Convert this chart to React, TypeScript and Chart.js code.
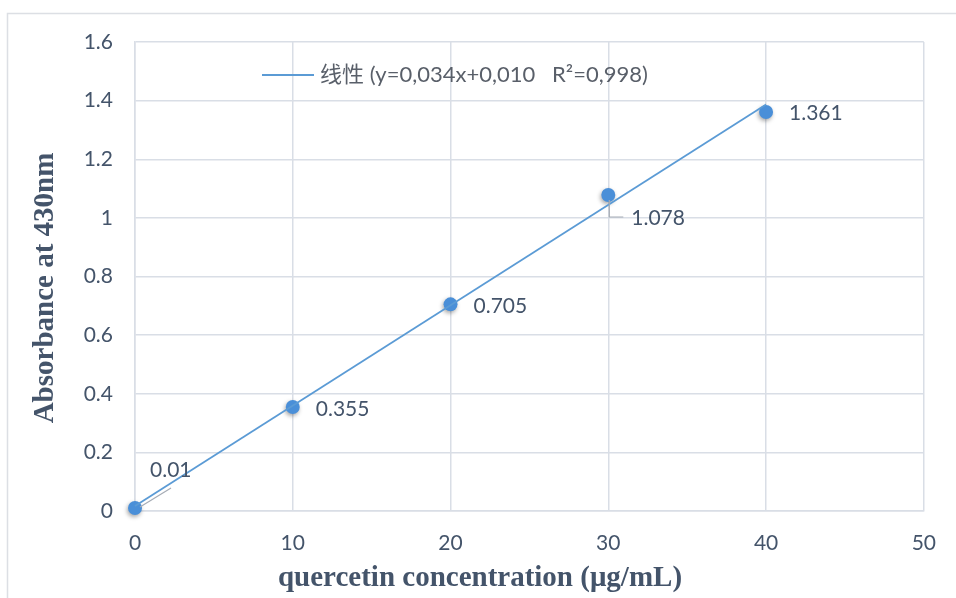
import React, { useEffect, useRef } from "react";
import { Chart, registerables } from "chart.js";

Chart.register(...registerables);

const concentrations = [0, 10, 20, 30, 40];
const absorbance = [0.01, 0.355, 0.705, 1.078, 1.361];
const trendX = [0, 40];
const trendY = [0.017, 1.387];
const xTitle = "quercetin concentration (μg/mL)";
const yTitle = "Absorbance at 430nm";
const legendText = "线性 (y=0,034x+0,010   R²=0,998)";

const TICK_COLOR = "#44546a";
const GRID = "#d9dee6";
const BLUE = "#5b9bd5";
const POINT = "#4a8fd8";
const SANS = "Lato, 'Noto Sans CJK SC', sans-serif";
const SERIF = "'Liberation Serif', 'DejaVu Serif', serif";

// label offsets relative to point pixel (style only)
const labelOffsets = [
  [15, -38],
  [23, 2],
  [23, 2],
  [23, 23],
  [23, 1],
];

export default function App() {
  const ref = useRef<HTMLCanvasElement | null>(null);

  useEffect(() => {
    if (!ref.current) return;

    const decor = {
      id: "decor",
      beforeDraw(chart: any) {
        const ctx = chart.ctx;
        ctx.save();
        ctx.strokeStyle = "#dcdfe4";
        ctx.lineWidth = 1.5;
        ctx.strokeRect(7.5, 13.5, 980, 620);
        ctx.restore();
      },
      beforeDatasetDraw(chart: any, args: any) {
        if (args.index === 0) {
          const ctx = chart.ctx;
          ctx.save();
          ctx.shadowColor = "rgba(0,0,0,0.35)";
          ctx.shadowBlur = 4;
          ctx.shadowOffsetX = -1;
          ctx.shadowOffsetY = 2;
        }
      },
      afterDatasetDraw(chart: any, args: any) {
        if (args.index === 0) chart.ctx.restore();
      },
      afterDraw(chart: any) {
        const ctx = chart.ctx;
        const xs = chart.scales.x;
        const ys = chart.scales.y;
        const ca = chart.chartArea;
        ctx.save();
        // data labels
        ctx.font = `21px ${SANS}`;
        ctx.fillStyle = TICK_COLOR;
        ctx.textBaseline = "middle";
        ctx.textAlign = "left";
        concentrations.forEach((c, i) => {
          const px = xs.getPixelForValue(c);
          const py = ys.getPixelForValue(absorbance[i]);
          const [dx, dy] = labelOffsets[i];
          ctx.fillText(String(absorbance[i]), px + dx, py + dy);
        });
        // leader lines
        ctx.strokeStyle = "#a6acb5";
        ctx.lineWidth = 1.2;
        {
          const px = xs.getPixelForValue(concentrations[0]);
          const py = ys.getPixelForValue(absorbance[0]);
          ctx.beginPath();
          ctx.moveTo(px + 5, py - 1);
          ctx.lineTo(px + 36, py - 20);
          ctx.stroke();
        }
        {
          const px = xs.getPixelForValue(concentrations[3]);
          const py = ys.getPixelForValue(absorbance[3]);
          ctx.beginPath();
          ctx.moveTo(px + 1, py + 5);
          ctx.lineTo(px + 1, py + 22);
          ctx.lineTo(px + 15, py + 22);
          ctx.stroke();
        }
        // legend
        const ly = ca.top + 33;
        ctx.strokeStyle = BLUE;
        ctx.lineWidth = 2;
        ctx.beginPath();
        ctx.moveTo(ca.left + 127, ly);
        ctx.lineTo(ca.left + 179, ly);
        ctx.stroke();
        ctx.font = `22px ${SANS}`;
        ctx.fillStyle = "#595f69";
        ctx.fillText(legendText, ca.left + 185, ly);
        // axis titles
        ctx.fillStyle = TICK_COLOR;
        ctx.font = `bold 29px ${SERIF}`;
        ctx.textAlign = "center";
        ctx.fillText(xTitle, 480, 579);
        ctx.translate(46, 288);
        ctx.rotate(-Math.PI / 2);
        ctx.fillText(yTitle, 0, 0);
        ctx.restore();
      },
    };

    const chart = new Chart(ref.current, {
      type: "scatter",
      data: {
        datasets: [
          {
            label: "points",
            data: concentrations.map((x, i) => ({ x, y: absorbance[i] })),
            pointRadius: 7,
            pointHoverRadius: 7,
            pointBackgroundColor: POINT,
            pointBorderColor: POINT,
            pointBorderWidth: 0,
            showLine: false,
            clip: false,
            order: 2,
          } as any,
          {
            label: "trend",
            type: "line",
            data: trendX.map((x, i) => ({ x, y: trendY[i] })),
            borderColor: BLUE,
            borderWidth: 1.8,
            pointRadius: 0,
            fill: false,
            clip: false,
            order: 1,
          } as any,
        ],
      },
      options: {
        animation: false,
        responsive: true,
        maintainAspectRatio: false,
        layout: { padding: { left: 0, right: 30, top: 42, bottom: 0 } },
        plugins: {
          legend: { display: false },
          tooltip: { enabled: false },
        },
        scales: {
          x: {
            type: "linear",
            min: 0,
            max: 50,
            ticks: {
              stepSize: 10,
              padding: 20,
              color: TICK_COLOR,
              font: { family: SANS, size: 21 },
            },
            grid: { color: GRID, lineWidth: 1.5, drawTicks: false },
            border: { color: GRID, width: 1.5 },
            afterFit: (s: any) => {
              s.height = 87;
            },
          },
          y: {
            type: "linear",
            min: 0,
            max: 1.6,
            ticks: {
              stepSize: 0.2,
              padding: 22,
              color: TICK_COLOR,
              font: { family: SANS, size: 21 },
              callback: (v: any) => String(Number(Number(v).toFixed(1))),
            },
            grid: { color: GRID, lineWidth: 1.5, drawTicks: false },
            border: { color: GRID, width: 1.5 },
            afterFit: (s: any) => {
              s.width = 135;
            },
          },
        },
      },
      plugins: [decor],
    });

    return () => chart.destroy();
  }, []);

  return (
    <div
      style={{
        position: "fixed",
        left: 0,
        top: 0,
        width: 956,
        height: 598,
        background: "#fff",
      }}
    >
      <canvas ref={ref} />
    </div>
  );
}
